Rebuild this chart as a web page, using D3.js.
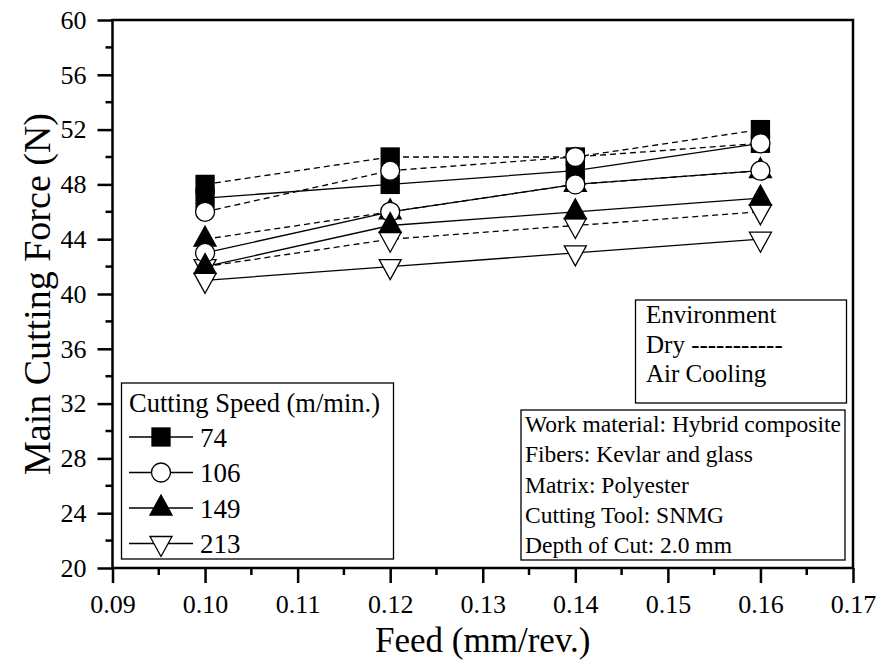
<!DOCTYPE html>
<meta charset="utf-8">
<style>
  body { margin: 0; background: #fff; }
  text { font-family: "Liberation Serif", "Times New Roman", serif; fill: #000; }
</style>
<body>
<script src="https://d3js.org/d3.v7.min.js"></script>
<script>
var feeds = [0.10, 0.12, 0.14, 0.16];
var speeds = ["74", "106", "149", "213"];
var symbols = ["square", "circle", "triUp", "triDown"];
var fills = ["#000", "#fff", "#000", "#fff"];

// dry (dashed)
var dry74  = [48, 50, 50, 52];
var dry106 = [46, 49, 50, 51];
var dry149 = [44, 46, 48, 49];
var dry213 = [42, 44, 45, 46];
// air cooling (solid)
var air74  = [47, 48, 49, 51];
var air106 = [43, 46, 48, 49];
var air149 = [42, 45, 46, 47];
var air213 = [41, 42, 43, 44];

var xTicks = [0.09, 0.10, 0.11, 0.12, 0.13, 0.14, 0.15, 0.16, 0.17];
var yTicks = [20, 24, 28, 32, 36, 40, 44, 48, 52, 56, 60];
var infoLines = ["Work material: Hybrid composite", "Fibers: Kevlar and glass",
  "Matrix: Polyester", "Cutting Tool: SNMG", "Depth of Cut: 2.0 mm"];
var envLines = ["Environment", "Dry -----------", "Air Cooling"];

var width = 884, height = 664;
var pLeft = 112.5, pRight = 853, pTop = 20, pBottom = 568;

var svg = d3.select("body").append("svg")
    .attr("width", width)
    .attr("height", height);

var x = d3.scaleLinear().domain([0.09, 0.17]).range([pLeft, pRight]);
var y = d3.scaleLinear().domain([20, 60]).range([pBottom, pTop]);

function marker(sel, kind) {
  if (kind == "square") {
    sel.append("rect").attr("x", -9).attr("y", -9).attr("width", 18).attr("height", 18);
  } else if (kind == "circle") {
    sel.append("circle").attr("r", 9.5);
  } else if (kind == "triUp") {
    sel.append("path").attr("d", "M0,-13L11,7L-11,7Z");
  } else {
    sel.append("path").attr("d", "M0,13L11,-7L-11,-7Z");
  }
}

var DASH = "6,4";
// plotting order (later drawn on top)
var series = [
  {vals: air74, k: 0, dash: null},
  {vals: dry74, k: 0, dash: DASH}, {vals: dry106, k: 1, dash: DASH},
  {vals: dry149, k: 2, dash: DASH}, {vals: dry213, k: 3, dash: DASH},
  {vals: air106, k: 1, dash: null}, {vals: air149, k: 2, dash: null},
  {vals: air213, k: 3, dash: null}
];

var line = d3.line().x((d, i) => x(feeds[i])).y(d => y(d));

series.forEach(function(s) {
  svg.append("path")
    .attr("d", line(s.vals))
    .attr("fill", "none")
    .attr("stroke", "#000")
    .attr("stroke-width", 1.3)
    .attr("stroke-dasharray", s.dash);
});
series.forEach(function(s) {
  s.vals.forEach(function(v, i) {
    var g = svg.append("g")
      .attr("transform", `translate(${x(feeds[i])},${y(v)})`)
      .attr("fill", fills[s.k])
      .attr("stroke", "#000")
      .attr("stroke-width", 1.3);
    marker(g, symbols[s.k]);
  });
});

// axes
var xAxis = d3.axisBottom(x).tickValues(xTicks).tickSize(15).tickPadding(12)
  .tickFormat(d3.format(".2f"));
var gx = svg.append("g").attr("transform", `translate(0,${pBottom})`).call(xAxis);
var yAxis = d3.axisLeft(y).tickValues(yTicks).tickSize(15).tickPadding(11)
  .tickFormat(d3.format("d"));
var gy = svg.append("g").attr("transform", `translate(${pLeft},0)`).call(yAxis);

[gx, gy].forEach(function(g) {
  g.select(".domain").remove();
  g.selectAll("line").attr("stroke-width", 2.5);
  g.selectAll("text").style("font-size", "26px").style("font-family", "Liberation Serif");
});

// minor ticks
svg.append("g").selectAll("line")
  .data(d3.range(0.095, 0.17, 0.01))
  .enter().append("line")
  .attr("x1", d => x(d)).attr("x2", d => x(d))
  .attr("y1", pBottom).attr("y2", pBottom + 7)
  .attr("stroke", "#000").attr("stroke-width", 2.5);
svg.append("g").selectAll("line")
  .data(d3.range(22, 60, 4))
  .enter().append("line")
  .attr("y1", d => y(d)).attr("y2", d => y(d))
  .attr("x1", pLeft).attr("x2", pLeft - 7)
  .attr("stroke", "#000").attr("stroke-width", 2.5);

// frame
svg.append("rect")
  .attr("x", pLeft).attr("y", pTop)
  .attr("width", pRight - pLeft).attr("height", pBottom - pTop)
  .attr("fill", "none").attr("stroke", "#000").attr("stroke-width", 2.5);

// axis titles
svg.append("text")
  .attr("x", (pLeft + pRight) / 2).attr("y", 652)
  .attr("text-anchor", "middle")
  .style("font-size", "35px")
  .text("Feed (mm/rev.)");
svg.append("text")
  .attr("transform", `translate(50,${(pTop + pBottom) / 2}) rotate(-90)`)
  .attr("text-anchor", "middle")
  .style("font-size", "38px")
  .text("Main Cutting Force (N)");

// speed legend
var lg = svg.append("g");
lg.append("rect")
  .attr("x", 121.5).attr("y", 383).attr("width", 272).attr("height", 176)
  .attr("fill", "#fff").attr("stroke", "#000").attr("stroke-width", 1.3);
lg.append("text").attr("x", 129).attr("y", 412)
  .style("font-size", "26.5px").text("Cutting Speed (m/min.)");
speeds.forEach(function(sp, i) {
  var yy = 437 + i * 35.5;
  lg.append("line").attr("x1", 129).attr("x2", 193).attr("y1", yy).attr("y2", yy)
    .attr("stroke", "#000").attr("stroke-width", 1.3);
  var g = lg.append("g").attr("transform", `translate(161,${yy})`)
    .attr("fill", fills[i]).attr("stroke", "#000").attr("stroke-width", 1.3);
  marker(g, symbols[i]);
  lg.append("text").attr("x", 200).attr("y", yy + 9.5)
    .style("font-size", "27px").text(sp);
});

// environment box
var eg = svg.append("g");
eg.append("rect")
  .attr("x", 635.5).attr("y", 300).attr("width", 211).attr("height", 103)
  .attr("fill", "#fff").attr("stroke", "#000").attr("stroke-width", 1.3);
envLines.forEach(function(t, i) {
  eg.append("text").attr("x", 646).attr("y", 323 + i * 29.5)
    .style("font-size", "25px").text(t);
});

// info box
var ig = svg.append("g");
ig.append("rect")
  .attr("x", 521).attr("y", 410).attr("width", 324).attr("height", 150)
  .attr("fill", "#fff").attr("stroke", "#000").attr("stroke-width", 1.3);
infoLines.forEach(function(t, i) {
  ig.append("text").attr("x", 525).attr("y", 432 + i * 30.3)
    .style("font-size", "23.5px").text(t);
});
</script>
</body>
</html>
